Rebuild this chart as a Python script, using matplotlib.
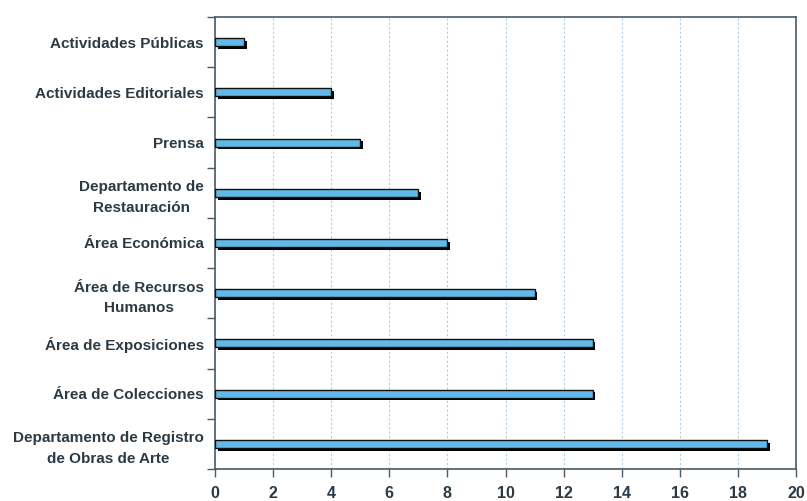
import matplotlib
matplotlib.use('Agg')
import matplotlib.pyplot as plt
import matplotlib.patheffects as pe
from matplotlib.ticker import FixedLocator

# Data (top to bottom as shown in the chart)
areas = [
    'Actividades Públicas',
    'Actividades Editoriales',
    'Prensa',
    'Departamento de\nRestauración',
    'Área Económica',
    'Área de Recursos\nHumanos',
    'Área de Exposiciones',
    'Área de Colecciones',
    'Departamento de Registro\nde Obras de Arte',
]
counts = [1, 4, 5, 7, 8, 11, 13, 13, 19]
x_ticks = list(range(0, 21, 2))

text_color = '#2b3a44'
spine_color = '#4a5a66'

plt.rcParams['font.family'] = ['Liberation Sans', 'DejaVu Sans']

fig = plt.figure(figsize=(8.07, 5.01), dpi=100)
ax = fig.add_axes([215 / 807, 1 - 469 / 501, 581 / 807, 452 / 501])

pos = list(range(len(areas)))
bars = ax.barh(pos, counts, height=0.16, color='#62b9e8', edgecolor='#111111',
               linewidth=1.0, zorder=3)
for b in bars:
    b.set_path_effects([pe.SimplePatchShadow(offset=(2, -2), shadow_rgbFace='black', alpha=1.0),
                        pe.Normal()])

ax.set_xlim(0, 20)
ax.set_ylim(len(areas) - 0.5, -0.5)
ax.set_xticks(x_ticks)
ax.set_yticks(pos)
ax.set_yticklabels(areas, multialignment='center', fontweight='bold', linespacing=1.6)
ax.set_xticklabels([str(t) for t in x_ticks], fontweight='bold')
ax.yaxis.set_minor_locator(FixedLocator([p + 0.5 for p in range(-1, len(areas))]))

ax.tick_params(axis='y', which='major', length=0, pad=8, labelsize=11, labelcolor=text_color)
ax.tick_params(axis='y', which='minor', length=6, width=1, color=spine_color, direction='out')
ax.tick_params(axis='x', length=6, width=1, color=spine_color, pad=6, labelsize=11.5,
               labelcolor=text_color)

ax.grid(axis='x', linestyle=(0, (2, 2)), color='#a9cfe8', linewidth=0.8, zorder=0)

for s in ax.spines.values():
    s.set_color(spine_color)
    s.set_linewidth(1.2)

fig.savefig('out.png', dpi=100)
